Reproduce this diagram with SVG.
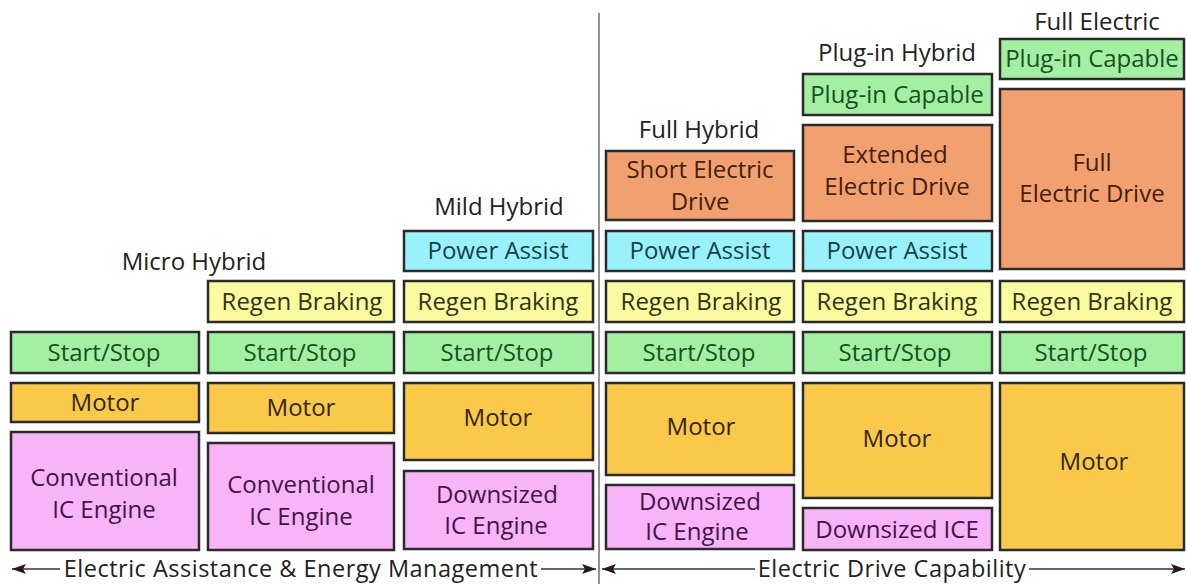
<svg xmlns="http://www.w3.org/2000/svg" width="1187" height="584" viewBox="0 0 1187 584">
<style>
rect{stroke:#2b2b2b;stroke-width:2.5}
text{font-family:"Open Sans","Liberation Sans",sans-serif;font-size:24px;text-anchor:middle}
.ss{fill:#a3f0a3}.rg{fill:#fafa9e}.pa{fill:#99f2fb}.mo{fill:#fbc94a}.ic{fill:#f8b4f8}.ed{fill:#f3a070}.pc{fill:#a3f0a3}
.tss{fill:#1a4f22}.trg{fill:#33331a}.tpa{fill:#173f4a}.tmo{fill:#332606}.tic{fill:#421548}.ted{fill:#421f10}.tpc{fill:#1a4f22}
.title{fill:#222}
.bottom{font-size:23.5px;letter-spacing:0.5px}
.ln{stroke:#666;stroke-width:2;fill:none}
</style>
<defs>
<marker id="ah" viewBox="0 0 14 10" refX="14" refY="5" markerWidth="14" markerHeight="10" markerUnits="userSpaceOnUse" orient="auto-start-reverse">
<path d="M0,0 L14,5 L0,10 L3,5 Z" fill="#2a1620"/>
</marker>
</defs>
<rect x="0" y="0" width="1187" height="584" fill="#ffffff" style="stroke:none"/>
<line x1="599" y1="13" x2="599" y2="584" stroke="#777" stroke-width="1.6"/>

<g id="col-micro">
<text class="title" x="194" y="270">Micro Hybrid</text>
<g id="micro-startstop"><rect class="ss" x="11" y="332" width="188" height="41"/><text class="tss" x="104" y="361">Start/Stop</text></g>
<g id="micro-motor"><rect class="mo" x="11" y="383" width="188" height="39"/><text class="tmo" x="105" y="411">Motor</text></g>
<g id="micro-engine"><rect class="ic" x="11" y="432" width="188" height="118"/><text class="tic" x="104" y="486">Conventional</text><text class="tic" x="104" y="518">IC Engine</text></g>
</g>

<g id="col-micro2">
<g id="m2-regen"><rect class="rg" x="208" y="281" width="186" height="41"/><text class="trg" x="302" y="310">Regen Braking</text></g>
<g id="m2-startstop"><rect class="ss" x="208" y="332" width="186" height="41"/><text class="tss" x="300" y="361">Start/Stop</text></g>
<g id="m2-motor"><rect class="mo" x="208" y="383" width="186" height="50"/><text class="tmo" x="301" y="416">Motor</text></g>
<g id="m2-engine"><rect class="ic" x="208" y="443" width="186" height="107"/><text class="tic" x="301" y="493">Conventional</text><text class="tic" x="301" y="525">IC Engine</text></g>
</g>

<g id="col-mild">
<text class="title" x="499" y="215">Mild Hybrid</text>
<g id="mild-power"><rect class="pa" x="404" y="231" width="189" height="40"/><text class="tpa" x="498" y="259">Power Assist</text></g>
<g id="mild-regen"><rect class="rg" x="404" y="281" width="189" height="41"/><text class="trg" x="498" y="310">Regen Braking</text></g>
<g id="mild-startstop"><rect class="ss" x="404" y="332" width="189" height="41"/><text class="tss" x="497" y="361">Start/Stop</text></g>
<g id="mild-motor"><rect class="mo" x="404" y="383" width="189" height="77"/><text class="tmo" x="498" y="426">Motor</text></g>
<g id="mild-engine"><rect class="ic" x="404" y="471" width="189" height="78"/><text class="tic" x="497" y="503">Downsized</text><text class="tic" x="496" y="534">IC Engine</text></g>
</g>

<g id="col-full">
<text class="title" x="699" y="138">Full Hybrid</text>
<g id="full-ed"><rect class="ed" x="606" y="151" width="188" height="69"/><text class="ted" x="700" y="178">Short Electric</text><text class="ted" x="700" y="210">Drive</text></g>
<g id="full-power"><rect class="pa" x="606" y="231" width="188" height="40"/><text class="tpa" x="700" y="259">Power Assist</text></g>
<g id="full-regen"><rect class="rg" x="606" y="281" width="188" height="41"/><text class="trg" x="701" y="310">Regen Braking</text></g>
<g id="full-startstop"><rect class="ss" x="606" y="332" width="188" height="41"/><text class="tss" x="699" y="361">Start/Stop</text></g>
<g id="full-motor"><rect class="mo" x="606" y="383" width="188" height="92"/><text class="tmo" x="701" y="435">Motor</text></g>
<g id="full-engine"><rect class="ic" x="606" y="485" width="188" height="64"/><text class="tic" x="700" y="510">Downsized</text><text class="tic" x="697" y="540">IC Engine</text></g>
</g>

<g id="col-plugin">
<text class="title" x="897" y="61">Plug-in Hybrid</text>
<g id="plug-capable"><rect class="pc" x="803" y="74" width="189" height="41"/><text class="tpc" x="897" y="103">Plug-in Capable</text></g>
<g id="plug-ed"><rect class="ed" x="803" y="125" width="189" height="96"/><text class="ted" x="895" y="163">Extended</text><text class="ted" x="897" y="195">Electric Drive</text></g>
<g id="plug-power"><rect class="pa" x="803" y="231" width="189" height="40"/><text class="tpa" x="897" y="259">Power Assist</text></g>
<g id="plug-regen"><rect class="rg" x="803" y="281" width="189" height="41"/><text class="trg" x="897" y="310">Regen Braking</text></g>
<g id="plug-startstop"><rect class="ss" x="803" y="332" width="189" height="41"/><text class="tss" x="895" y="361">Start/Stop</text></g>
<g id="plug-motor"><rect class="mo" x="803" y="383" width="189" height="115"/><text class="tmo" x="897" y="447">Motor</text></g>
<g id="plug-engine"><rect class="ic" x="803" y="508" width="189" height="42"/><text class="tic" x="897" y="538">Downsized ICE</text></g>
</g>

<g id="col-electric">
<text class="title" x="1097" y="30">Full Electric</text>
<g id="ev-capable"><rect class="pc" x="1000" y="39" width="184" height="40"/><text class="tpc" x="1092" y="67">Plug-in Capable</text></g>
<g id="ev-ed"><rect class="ed" x="1000" y="89" width="184" height="180"/><text class="ted" x="1092" y="171">Full</text><text class="ted" x="1092" y="202">Electric Drive</text></g>
<g id="ev-regen"><rect class="rg" x="1000" y="281" width="184" height="41"/><text class="trg" x="1092" y="310">Regen Braking</text></g>
<g id="ev-startstop"><rect class="ss" x="1000" y="332" width="184" height="41"/><text class="tss" x="1091" y="361">Start/Stop</text></g>
<g id="ev-motor"><rect class="mo" x="1000" y="383" width="184" height="167"/><text class="tmo" x="1094" y="470">Motor</text></g>
</g>

<g id="connectors">
<line class="ln" x1="60" y1="569" x2="12" y2="569" marker-end="url(#ah)"/>
<line class="ln" x1="541" y1="569" x2="596" y2="569" marker-end="url(#ah)"/>
<line class="ln" x1="755" y1="569" x2="602" y2="569" marker-end="url(#ah)"/>
<line class="ln" x1="1029" y1="569" x2="1185" y2="569" marker-end="url(#ah)"/>
</g>
<text class="title bottom" x="301" y="577">Electric Assistance &amp; Energy Management</text>
<text class="title bottom" x="892" y="577">Electric Drive Capability</text>
</svg>
